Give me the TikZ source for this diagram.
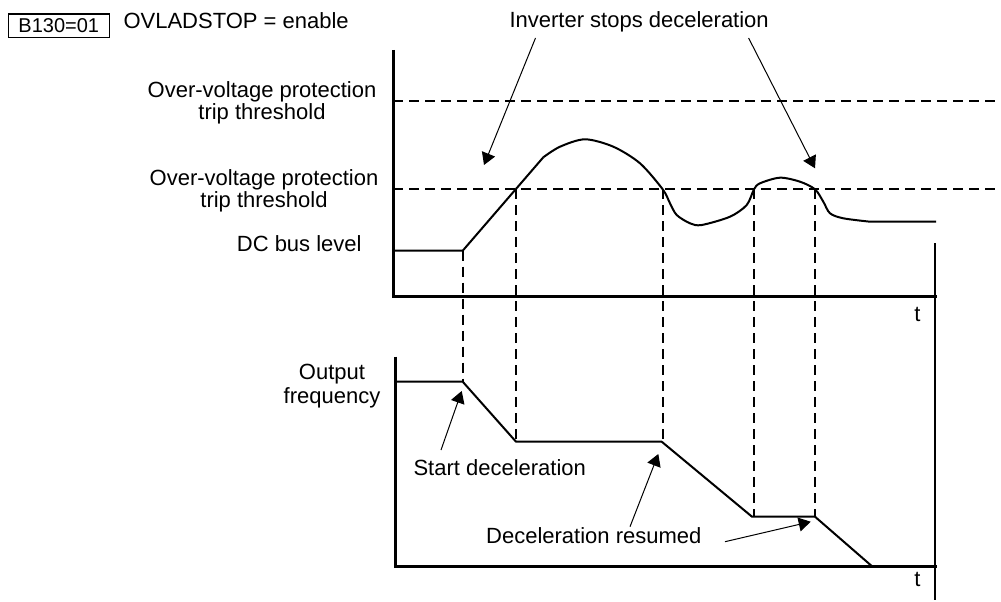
\documentclass[tikz,border=0pt]{standalone}
\usepackage{fontspec}
\setmainfont{Liberation Sans}
\usetikzlibrary{arrows.meta}
\begin{document}
\begin{tikzpicture}[x=1pt,y=-1pt,
  lbl/.style={inner sep=0pt, font=\fontsize{22}{22}\selectfont},
  axisline/.style={line width=3pt},
  thr/.style={line width=1.8pt, dash pattern=on 10pt off 6pt},
  sig/.style={line width=2pt, line join=round},
  callout/.style={line width=1pt, -{Triangle[length=12pt,width=14pt]}},
]
\useasboundingbox (0,0) rectangle (1001,602);

% ---- texts ----
\node[draw, line width=1.3pt, inner sep=0pt, minimum width=101pt, minimum height=23.3pt,
      font=\fontsize{20}{20}\selectfont] (code) at (58.8,25.7) {B130=01};
\node[lbl, anchor=base west] (ovl) at (123.3,28.3) {OVLADSTOP = enable};
\node[lbl, anchor=base west] (inv) at (509.3,27.3) {Inverter stops deceleration};
\node[lbl, anchor=base] (ovp1) at (262,97.3) {\begin{tabular}[t]{@{}c@{}}Over-voltage protection\\trip threshold\end{tabular}};
\node[lbl, anchor=base] (ovp2) at (264,185) {\begin{tabular}[t]{@{}c@{}}Over-voltage protection\\trip threshold\end{tabular}};
\node[lbl, anchor=base west] (dcbus) at (236.7,251.7) {DC bus level};
\node[lbl, anchor=base, font=\fontsize{22}{24.5}\selectfont] (outf) at (332,379) {\begin{tabular}[t]{@{}c@{}}Output\\frequency\end{tabular}};
\node[lbl, anchor=base west] (startd) at (413.3,475.7) {Start deceleration};
\node[lbl, anchor=base west] (resumed) at (486,543.3) {Deceleration resumed};
\node[lbl, anchor=base] (t1) at (917.3,321.7) {t};
\node[lbl, anchor=base] (t2) at (917.3,586) {t};

% ---- thresholds ----
\draw[thr] (393,100.7) -- (1001,100.7);
\draw[thr] (393,189.3) -- (1001,189.3);

% ---- vertical dashed guides ----
\draw[thr] (462.7,250.7) -- (462.7,381.7);
\draw[thr] (516,189.3) -- (516,441.7);
\draw[thr] (662.7,189.3) -- (662.7,441.7);
\draw[thr] (754,189.3) -- (754,516.7);
\draw[thr] (815,189.3) -- (815,516.7);

% ---- axes ----
\draw[axisline] (393,50) -- (393,296) -- (936.7,296);
\draw[axisline] (395,356.7) -- (395,566) -- (936.7,566);
\draw[line width=2pt] (935,243) -- (935,600);

% ---- DC bus signal ----
\draw[sig] (393,250.7) -- (462.7,250.7) -- (543.3,157.3);
\draw[sig] plot[smooth, tension=0.5] coordinates {
  (543.3,157.3) (560,146.7) (585,139.3) (613.3,146.7) (640,163.3) (662.7,189.3)
  (670,203.3) (676.7,215) (690,223.3) (701.7,225) (730,216.7) (746.7,205)
  (754,189.3) (760,183.3) (780,177.7) (800,181.7) (815,189.3) (823.3,201.7)
  (830,213.3) (843.3,218.3) (870,221.7)} -- (936,221.7);

% ---- output frequency ----
\draw[sig] (395,381.7) -- (462.7,381.7) -- (516,441.7) -- (661.7,441.7)
  -- (752,516.7) -- (815,516.7) -- (871.7,566);

% ---- callouts ----
\coordinate (a1s) at (535.5,38);   \coordinate (a1e) at (484,165);
\coordinate (a2s) at (748.6,38);   \coordinate (a2e) at (815,168.3);
\coordinate (a3s) at (441,450);    \coordinate (a3e) at (461.7,391);
\coordinate (a4s) at (630,526.7);  \coordinate (a4e) at (658.3,454);
\coordinate (a5s) at (725,541.7);  \coordinate (a5e) at (810.7,521.7);
\draw[callout] (a1s) -- (a1e);
\draw[callout] (a2s) -- (a2e);
\draw[callout] (a3s) -- (a3e);
\draw[callout] (a4s) -- (a4e);
\draw[callout] (a5s) -- (a5e);
\end{tikzpicture}
\end{document}
